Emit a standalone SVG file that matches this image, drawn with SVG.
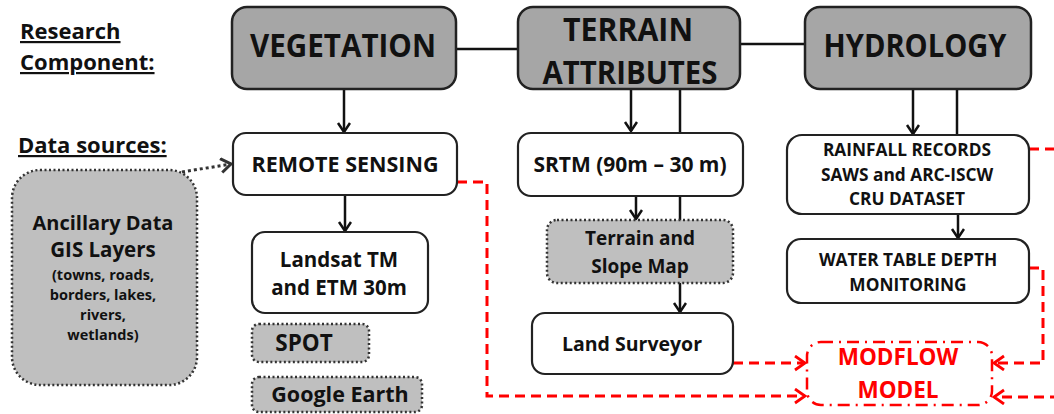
<svg xmlns="http://www.w3.org/2000/svg" width="1054" height="414" viewBox="0 0 1054 414">
<defs>
<style>
text{font-family:"Open Sans","Liberation Sans",sans-serif;font-weight:bold;fill:#111;text-anchor:middle}
.comp{fill:#a6a6a6;stroke:#222;stroke-width:2.5}
.src{fill:#fff;stroke:#222;stroke-width:2.2}
.dot{fill:#bfbfbf;stroke:#333;stroke-width:2.5;stroke-dasharray:2,2.5}
.mod{fill:#fff;stroke:#ff0000;stroke-width:2.5;stroke-dasharray:12,6,2,6}
.blk{fill:none;stroke:#111;stroke-width:2.5}
.red{fill:none;stroke:#ff0000;stroke-width:3;stroke-dasharray:10,6}
.dtl{fill:none;stroke:#333;stroke-width:3;stroke-dasharray:3,3}
.lbl{text-anchor:start;text-decoration:underline;font-size:22px}
.hd{font-size:32px}
.sub{font-size:14.5px}
.rt{fill:#ff0000}
</style>
<marker id="ab" markerUnits="userSpaceOnUse" markerWidth="16" markerHeight="16" refX="10" refY="7" orient="auto">
<path d="M1,1 L10,7 L1,13" fill="none" stroke="#111" stroke-width="2.5"/>
</marker>
<marker id="ar" markerUnits="userSpaceOnUse" markerWidth="18" markerHeight="18" refX="11" refY="8" orient="auto">
<path d="M1,1 L11,8 L1,15" fill="none" stroke="#ff0000" stroke-width="2.8"/>
</marker>
<marker id="ad" markerUnits="userSpaceOnUse" markerWidth="18" markerHeight="18" refX="11" refY="8" orient="auto">
<path d="M1,1 L11,8 L1,15" fill="none" stroke="#333" stroke-width="3"/>
</marker>
</defs>
<rect width="1054" height="414" fill="#fff"/>

<g id="labels">
<text class="lbl" x="20" y="39">Research</text>
<text class="lbl" x="20" y="70">Component:</text>
<text class="lbl" x="18" y="153">Data sources:</text>
</g>

<g id="connectors">
<line class="blk" x1="456" y1="49" x2="518" y2="49"/>
<line class="blk" x1="740" y1="44" x2="805" y2="44"/>
<line class="blk" x1="344" y1="89" x2="344" y2="132" marker-end="url(#ab)"/>
<line class="blk" x1="631" y1="89" x2="631" y2="131" marker-end="url(#ab)"/>
<line class="blk" x1="680" y1="89" x2="680" y2="133"/>
<line class="blk" x1="680" y1="196" x2="680" y2="220"/>
<line class="blk" x1="636" y1="196" x2="636" y2="219" marker-end="url(#ab)"/>
<line class="blk" x1="680" y1="283" x2="680" y2="312" marker-end="url(#ab)"/>
<line class="blk" x1="913" y1="89" x2="913" y2="134" marker-end="url(#ab)"/>
<line class="blk" x1="957" y1="89" x2="957" y2="136"/>
<line class="blk" x1="958" y1="214" x2="958" y2="238" marker-end="url(#ab)"/>
<line class="blk" x1="345" y1="195" x2="345" y2="231" marker-end="url(#ab)"/>
<line class="dtl" x1="182" y1="172" x2="231" y2="164" marker-end="url(#ad)"/>
<path class="red" d="M457,182 H487 V396 H805" marker-end="url(#ar)"/>
<path class="red" d="M733,363 H805" marker-end="url(#ar)"/>
<path class="red" d="M1029,268 H1043 V363 H994" marker-end="url(#ar)"/>
<path class="red" d="M1029,149 H1060"/>
<path class="red" d="M1060,397 H994" marker-end="url(#ar)"/>
</g>

<g id="vegetation">
<rect class="comp" x="232" y="7" width="224" height="82" rx="15"/>
<text class="hd" x="343" y="57" textLength="186" lengthAdjust="spacingAndGlyphs">VEGETATION</text>
</g>
<g id="terrain">
<rect class="comp" x="518" y="7" width="222" height="82" rx="15"/>
<text class="hd" x="628" y="41" textLength="130" lengthAdjust="spacingAndGlyphs">TERRAIN</text>
<text class="hd" x="630" y="84" textLength="175" lengthAdjust="spacingAndGlyphs">ATTRIBUTES</text>
</g>
<g id="hydrology">
<rect class="comp" x="805" y="7" width="226" height="82" rx="15"/>
<text class="hd" x="915" y="57" textLength="183" lengthAdjust="spacingAndGlyphs">HYDROLOGY</text>
</g>

<g id="ancillary">
<rect class="dot" x="12" y="170" width="185" height="215" rx="28"/>
<text x="103" y="230" style="font-size:20px">Ancillary Data</text>
<text x="103" y="257" style="font-size:20.5px">GIS Layers</text>
<text class="sub" x="103" y="280">(towns, roads,</text>
<text class="sub" x="103" y="300">borders, lakes,</text>
<text class="sub" x="103" y="320">rivers,</text>
<text class="sub" x="103" y="340">wetlands)</text>
</g>

<g id="remote-sensing">
<rect class="src" x="233" y="133" width="224" height="62" rx="13"/>
<text x="345" y="172" style="font-size:21.5px">REMOTE SENSING</text>
</g>
<g id="landsat">
<rect class="src" x="252" y="232" width="176" height="81" rx="13"/>
<text x="339" y="267" style="font-size:20.5px">Landsat TM</text>
<text x="339" y="295" style="font-size:20.5px">and ETM 30m</text>
</g>
<g id="spot">
<rect class="dot" x="252" y="324" width="117" height="38" rx="7"/>
<text x="304" y="351" style="font-size:22.5px">SPOT</text>
</g>
<g id="google-earth">
<rect class="dot" x="252" y="377" width="170" height="35" rx="7"/>
<text x="340" y="402" style="font-size:21.5px">Google Earth</text>
</g>

<g id="srtm">
<rect class="src" x="518" y="133" width="225" height="63" rx="13"/>
<text x="630" y="172" style="font-size:21px">SRTM (90m – 30 m)</text>
</g>
<g id="terrain-slope">
<rect class="dot" x="547" y="220" width="186" height="63" rx="10"/>
<text x="640" y="245" style="font-size:19px">Terrain and</text>
<text x="640" y="273" style="font-size:19px">Slope Map</text>
</g>
<g id="land-surveyor">
<rect class="src" x="532" y="313" width="201" height="61" rx="13"/>
<text x="632" y="351" style="font-size:19.5px">Land Surveyor</text>
</g>

<g id="rainfall">
<rect class="src" x="787" y="135" width="242" height="79" rx="15"/>
<text x="907" y="156" style="font-size:17.3px">RAINFALL RECORDS</text>
<text x="907" y="181" style="font-size:17.3px">SAWS and ARC-ISCW</text>
<text x="907" y="205" style="font-size:17.3px">CRU DATASET</text>
</g>
<g id="water-table">
<rect class="src" x="787" y="239" width="242" height="64" rx="14"/>
<text x="908" y="266" style="font-size:17.3px">WATER TABLE DEPTH</text>
<text x="908" y="291" style="font-size:17.3px">MONITORING</text>
</g>

<g id="modflow">
<rect class="mod" x="807" y="342" width="185" height="63" rx="14"/>
<text class="rt" x="898" y="365" style="font-size:22.5px">MODFLOW</text>
<text class="rt" x="898" y="398" style="font-size:22.5px">MODEL</text>
</g>
</svg>
